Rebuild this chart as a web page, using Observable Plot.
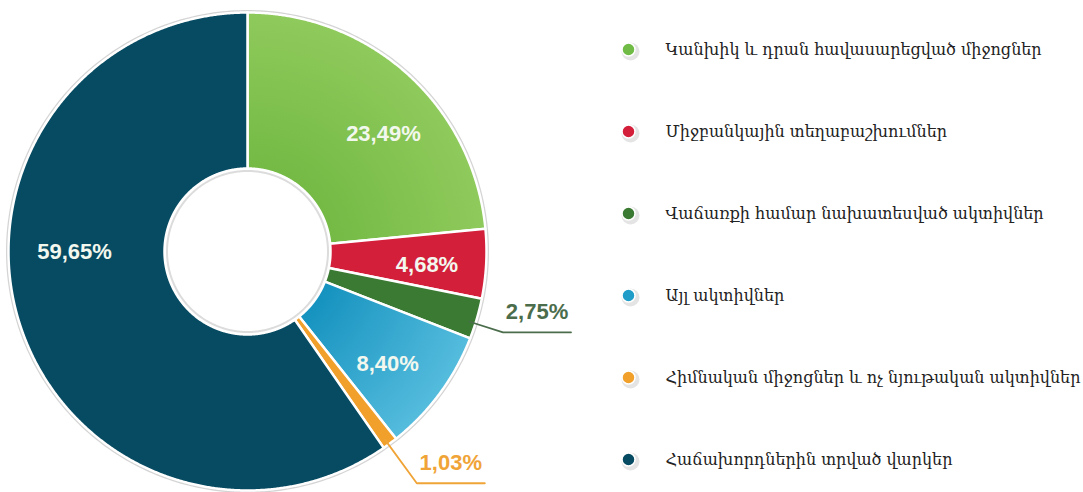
<!DOCTYPE html>
<html><head><meta charset="utf-8">
<script src="https://cdn.jsdelivr.net/npm/d3@7"></script>
<script src="https://cdn.jsdelivr.net/npm/@observablehq/plot@0.6"></script>
<style>body{margin:0;background:#fff} #chart svg{display:block}</style>
</head><body><div id="chart"></div>
<script>
// ---- data ----
const categories = [
  "Կանխիկ և դրան հավասարեցված միջոցներ",
  "Միջբանկային տեղաբաշխումներ",
  "Վաճառքի համար նախատեսված ակտիվներ",
  "Այլ ակտիվներ",
  "Հիմնական միջոցներ և ոչ նյութական ակտիվներ",
  "Հաճախորդներին տրված վարկեր"
];
const values = [23.49, 4.68, 2.75, 8.40, 1.03, 59.65];
const valueLabels = ["23,49%", "4,68%", "2,75%", "8,40%", "1,03%", "59,65%"];

// ---- styles / layout ----
const palette = ["url(#gGreen)", "#d41f3b", "#3a7a33", "url(#gBlue)", "#f1a02b", "#064b62"];
const legendColors = ["#6fbb45", "#d41f3b", "#3a7a33", "#1f9cc8", "#f1a02b", "#064b62"];
const outsideColors = {"2,75%": "#4b6d4c", "1,03%": "#f0a437"};
const W = 1083, H = 492;
const cx = 247, cy = 251, R = 239, r0 = 83;

const arcs = d3.pie().sort(null).value(d => d)(values);
const pt = (a, r) => ({x: cx + r * Math.sin(a), y: cy - r * Math.cos(a)});

const sliceRows = [];
arcs.forEach((a, i) => {
  const n = Math.max(3, Math.ceil((a.endAngle - a.startAngle) / 0.005));
  for (let k = 0; k <= n; k++) sliceRows.push({cat: categories[i], ...pt(a.startAngle + (a.endAngle - a.startAngle) * k / n, R)});
  for (let k = n; k >= 0; k--) sliceRows.push({cat: categories[i], ...pt(a.startAngle + (a.endAngle - a.startAngle) * k / n, r0)});
});
const ring = (r) => d3.range(0, 361).map(d => pt(d * Math.PI / 180, r));

const inside = [], outside = [], leaders = [];
const elbowExtra = [29, 48];
let oi = 0;
arcs.forEach((a, i) => {
  const ang = a.startAngle + 0.58 * (a.endAngle - a.startAngle);
  if (values[i] >= 4) {
    inside.push({text: valueLabels[i], ...pt(ang, values[i] > 50 ? 173 : 180)});
  } else {
    const la = a.startAngle + 0.62 * (a.endAngle - a.startAngle);
    const s = pt(la, R - 6), e = pt(la, R + elbowExtra[oi++]);
    const end = {x: e.x + 68, y: e.y};
    const col = outsideColors[valueLabels[i]];
    leaders.push({id: i, ...s, col}, {id: i, ...e, col}, {id: i, ...end, col});
    outside.push({text: valueLabels[i], x: (e.x + end.x) / 2, y: e.y - 20, col});
  }
});

const legendRows = categories.map((c, i) => ({cat: c, col: legendColors[i], y: 49 + i * 82}));

const chart = Plot.plot({
  width: W, height: H, margin: 0,
  x: {domain: [0, W], range: [0, W], axis: null},
  y: {domain: [0, H], range: [0, H], axis: null},
  color: {domain: categories, range: palette},
  marks: [
    Plot.line(ring(R + 1.5), {x: "x", y: "y", curve: "linear-closed", stroke: "#c9c9c9", strokeWidth: 2, strokeOpacity: 0.8}),
    Plot.line(sliceRows, {x: "x", y: "y", z: "cat", fill: "cat", stroke: "white", strokeWidth: 2.5, curve: "linear-closed"}),
    Plot.line(ring(r0 - 2.5), {x: "x", y: "y", curve: "linear-closed", stroke: "#dcdcdc", strokeWidth: 2}),
    Plot.line(leaders, {x: "x", y: "y", z: "id", stroke: "col", strokeWidth: 1.8}),
    Plot.text(inside, {x: "x", y: "y", text: "text", fill: "#f3f8ef", fontSize: 22, fontWeight: "bold", fontFamily: "Liberation Sans, Arial, sans-serif"}),
    Plot.text(outside, {x: "x", y: "y", text: "text", fill: "col", fontSize: 22, fontWeight: "bold", fontFamily: "Liberation Sans, Arial, sans-serif"}),
    Plot.dot(legendRows, {x: () => 630, y: d => d.y + 2, r: 9, fill: "#d9d9d9", fillOpacity: 0.7}),
    Plot.dot(legendRows, {x: () => 628, y: "y", r: 6.5, fill: "col", stroke: "white", strokeWidth: 1.5}),
    Plot.text(legendRows, {x: () => 665, y: "y", text: "cat", textAnchor: "start", fill: "#222", fontSize: 16, fontFamily: "DejaVu Serif, serif"})
  ]
});

const defs = `<defs>
<radialGradient id="gGreen" gradientUnits="userSpaceOnUse" cx="${cx}" cy="${cy}" r="${R}">
<stop offset="0.35" stop-color="#74ba45"/><stop offset="1" stop-color="#8fca5c"/></radialGradient>
<radialGradient id="gBlue" gradientUnits="userSpaceOnUse" cx="${cx}" cy="${cy}" r="${R}">
<stop offset="0.35" stop-color="#1592bf"/><stop offset="1" stop-color="#55bcdd"/></radialGradient>
</defs>`;
chart.insertAdjacentHTML("afterbegin", defs);
document.getElementById("chart").append(chart);
</script></body></html>
